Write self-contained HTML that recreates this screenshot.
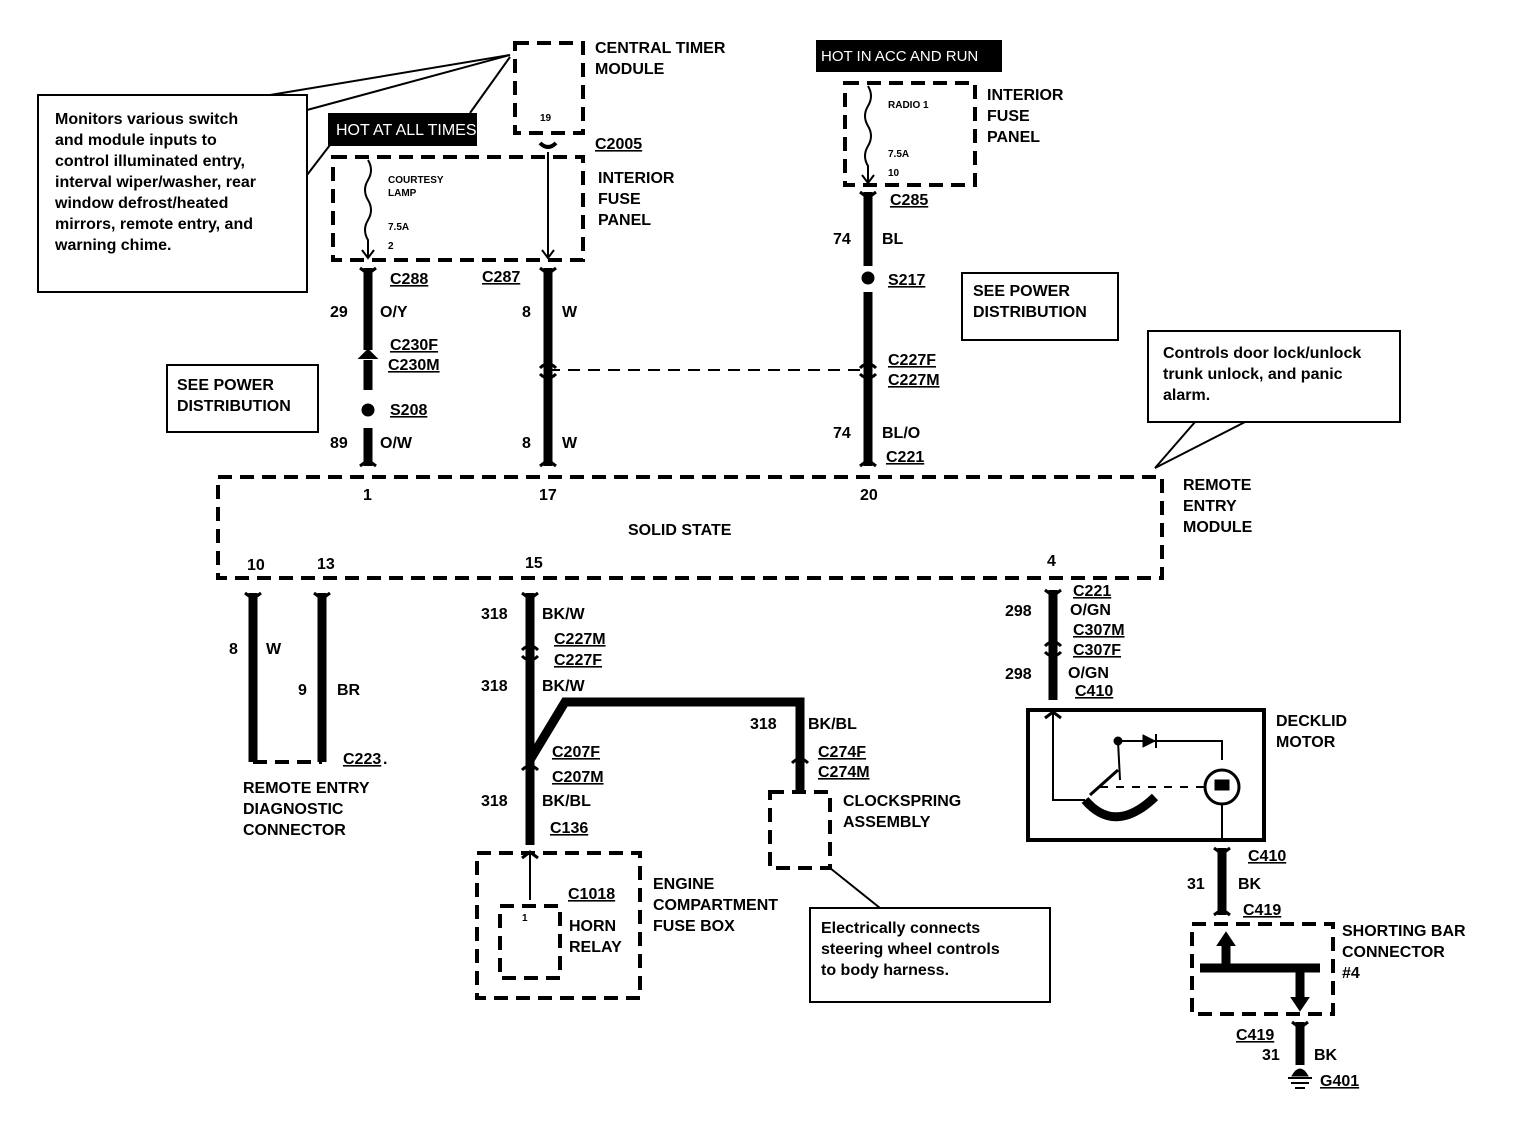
<!DOCTYPE html>
<html><head><meta charset="utf-8"><style>
html,body{margin:0;padding:0;background:#fff}
svg text{font-family:"Liberation Sans",sans-serif;font-weight:bold;font-size:16px;fill:#000}
.s{font-size:10px}
.u{text-decoration:underline}
</style></head><body>
<svg width="1520" height="1136" viewBox="0 0 1520 1136" xmlns="http://www.w3.org/2000/svg">
<g fill="none" stroke="#000">
<!-- note box left -->
<rect x="38" y="95" width="269" height="197" stroke-width="2"/>
<line x1="307" y1="110" x2="510" y2="55" stroke-width="2"/>
<line x1="270" y1="95" x2="510" y2="55" stroke-width="2"/>
<polyline points="307,175 330,145" stroke-width="2"/>
<line x1="470" y1="113" x2="510" y2="57" stroke-width="2"/>
<!-- dashed boxes -->
<g stroke-width="4" stroke-dasharray="14,8">
<rect x="515" y="43" width="68" height="90"/>
<rect x="333" y="157" width="250" height="103"/>
<rect x="845" y="83" width="130" height="102"/>
<rect x="218" y="477" width="944" height="101"/>
<rect x="770" y="792" width="60" height="76"/>
<rect x="477" y="853" width="163" height="145"/>
<rect x="500" y="906" width="60" height="72"/>
<rect x="1192" y="924" width="141" height="90"/>
<line x1="253" y1="762" x2="322" y2="762"/>
</g>
<line x1="548" y1="370" x2="868" y2="370" stroke-width="2" stroke-dasharray="12,8"/>
<!-- fuses -->
<path d="M368,160 q6,10 0,20 q-6,10 0,20 q6,10 0,20 q-6,10 0,20 L368,258" stroke-width="2"/>
<path d="M868,86 q6,10 0,20 q-6,10 0,20 q6,10 0,20 q-6,10 0,20 L868,183" stroke-width="2"/>
<line x1="548" y1="152" x2="548" y2="258" stroke-width="2"/>
<path d="M542,250 l6,8 l6,-8 M362,250 l6,8 l6,-8 M862,175 l6,8 l6,-8" stroke-width="2"/>
<path d="M540,143 q8,8 16,0" stroke-width="4"/>
<!-- thick wires -->
<g stroke-width="9">
<line x1="368" y1="268" x2="368" y2="350"/>
<line x1="368" y1="360" x2="368" y2="390"/>
<line x1="368" y1="428" x2="368" y2="466"/>
<line x1="548" y1="268" x2="548" y2="466"/>
<line x1="868" y1="192" x2="868" y2="266"/>
<line x1="868" y1="292" x2="868" y2="466"/>
<line x1="253" y1="593" x2="253" y2="762"/>
<line x1="322" y1="593" x2="322" y2="762"/>
<line x1="530" y1="593" x2="530" y2="845"/>
<polyline points="530,760 565,702 800,702 800,790"/>
<line x1="1053" y1="590" x2="1053" y2="700"/>
<line x1="1222" y1="848" x2="1222" y2="915"/>
<line x1="1226" y1="940" x2="1226" y2="968"/>
<polyline points="1200,968 1320,968"/>
<line x1="1300" y1="968" x2="1300" y2="998"/>
<line x1="1300" y1="1022" x2="1300" y2="1065"/>
</g>
<line x1="530" y1="855" x2="530" y2="900" stroke-width="2"/>
<!-- connector caps -->
<g stroke-width="3">
<path d="M360,268 l8,6 l8,-6 M540,268 l8,6 l8,-6 M860,192 l8,6 l8,-6 M245,593 l8,6 l8,-6 M314,593 l8,6 l8,-6 M522,593 l8,6 l8,-6 M1045,590 l8,6 l8,-6 M1214,848 l8,6 l8,-6 M1292,1022 l8,6 l8,-6"/>
<path d="M360,466 l8,-6 l8,6 M540,466 l8,-6 l8,6 M860,466 l8,-6 l8,6 M1214,915 l8,-6 l8,6"/>
<path d="M540,368 q8,-8 16,0 M540,374 q8,8 16,0 M860,368 q8,-8 16,0 M860,374 q8,8 16,0 M522,650 q8,-8 16,0 M522,656 q8,8 16,0 M522,770 q8,-8 16,0 M1045,646 q8,-8 16,0 M1045,652 q8,8 16,0 M792,763 q8,-8 16,0"/>
<path d="M522,858 l8,-6 l8,6 M1045,718 l8,-6 l8,6"/>
</g>
<circle cx="368" cy="410" r="6" fill="#000"/>
<circle cx="868" cy="278" r="6" fill="#000"/>
<path d="M360,358 l8,-8 l8,8 z M1218,945 l8,-12 l8,12z M1292,998 l8,12 l8,-12z" fill="#000" stroke-width="2"/>
<!-- right note -->
<rect x="1148" y="331" width="252" height="91" stroke-width="2"/>
<polyline points="1195,422 1155,468 1245,422" stroke-width="2"/>
<!-- decklid -->
<rect x="1028" y="710" width="236" height="130" stroke-width="4"/>
<polyline points="1053,712 1053,800 1085,800" stroke-width="2"/>
<path d="M1085,800 q30,35 70,-3" stroke-width="9"/>
<polyline points="1120,780 1118,741 1222,741 1222,760" stroke-width="2"/>
<line x1="1090" y1="795" x2="1118" y2="770" stroke-width="3"/>
<line x1="1100" y1="787" x2="1205" y2="787" stroke-width="2" stroke-dasharray="8,8"/>
<circle cx="1222" cy="787" r="17" stroke-width="3"/>
<line x1="1222" y1="805" x2="1222" y2="838" stroke-width="2"/>
<path d="M1143,735 l12,6 l-12,6z" fill="#000"/>
<line x1="1156" y1="734" x2="1156" y2="748" stroke-width="2"/>
<circle cx="1118" cy="741" r="4" fill="#000"/>
<rect x="1215" y="780" width="14" height="10" fill="#000"/>
<line x1="830" y1="868" x2="880" y2="908" stroke-width="2"/>
<rect x="810" y="908" width="240" height="94" stroke-width="2"/>
<!-- ground -->
<path d="M1288,1078 h24 M1291,1083 h18 M1295,1088 h10" stroke-width="2"/>
<path d="M1292,1076 q8,-14 16,0z" fill="#000"/>
</g>
<rect x="328" y="113" width="149" height="33" fill="#000"/>
<rect x="816" y="40" width="186" height="32" fill="#000"/>
<text x="336" y="135" style="fill:#fff;font-weight:normal">HOT AT ALL TIMES</text>
<text x="821" y="61" style="fill:#fff;font-weight:normal;font-size:15px">HOT IN ACC AND RUN</text>
<text x="55" y="124">Monitors various switch</text>
<text x="55" y="145">and module inputs to</text>
<text x="55" y="166">control illuminated entry,</text>
<text x="55" y="187">interval wiper/washer, rear</text>
<text x="55" y="208">window defrost/heated</text>
<text x="55" y="229">mirrors, remote entry, and</text>
<text x="55" y="250">warning chime.</text>
<text x="595" y="53">CENTRAL TIMER</text><text x="595" y="74">MODULE</text>
<text x="540" y="121" class="s">19</text>
<text x="595" y="149" class="u">C2005</text>
<text x="598" y="183">INTERIOR</text><text x="598" y="204">FUSE</text><text x="598" y="225">PANEL</text>
<text x="388" y="183" class="s">COURTESY</text><text x="388" y="196" class="s">LAMP</text>
<text x="388" y="230" class="s">7.5A</text><text x="388" y="249" class="s">2</text>
<text x="390" y="284" class="u">C288</text><text x="482" y="282" class="u">C287</text>
<text x="330" y="317">29</text><text x="380" y="317">O/Y</text>
<text x="522" y="317">8</text><text x="562" y="317">W</text>
<text x="390" y="350" class="u">C230F</text><text x="388" y="370" class="u">C230M</text>
<text x="390" y="415" class="u">S208</text>
<text x="330" y="448">89</text><text x="380" y="448">O/W</text>
<text x="522" y="448">8</text><text x="562" y="448">W</text>
<rect x="167" y="365" width="151" height="67" fill="none" stroke="#000" stroke-width="2"/>
<text x="177" y="390">SEE POWER</text><text x="177" y="411">DISTRIBUTION</text>
<text x="888" y="108" class="s">RADIO 1</text><text x="888" y="157" class="s">7.5A</text><text x="888" y="176" class="s">10</text>
<text x="987" y="100">INTERIOR</text><text x="987" y="121">FUSE</text><text x="987" y="142">PANEL</text>
<text x="890" y="205" class="u">C285</text>
<text x="833" y="244">74</text><text x="882" y="244">BL</text>
<text x="888" y="285" class="u">S217</text>
<rect x="962" y="273" width="156" height="67" fill="none" stroke="#000" stroke-width="2"/>
<text x="973" y="296">SEE POWER</text><text x="973" y="317">DISTRIBUTION</text>
<text x="888" y="365" class="u">C227F</text><text x="888" y="385" class="u">C227M</text>
<text x="833" y="438">74</text><text x="882" y="438">BL/O</text>
<text x="886" y="462" class="u">C221</text>
<text x="1163" y="358">Controls door lock/unlock</text><text x="1163" y="379">trunk unlock, and panic</text><text x="1163" y="400">alarm.</text>
<text x="363" y="500">1</text><text x="539" y="500">17</text><text x="860" y="500">20</text>
<text x="628" y="535">SOLID STATE</text>
<text x="1183" y="490">REMOTE</text><text x="1183" y="511">ENTRY</text><text x="1183" y="532">MODULE</text>
<text x="247" y="570">10</text><text x="317" y="569">13</text><text x="525" y="568">15</text><text x="1047" y="566">4</text>
<text x="229" y="654">8</text><text x="266" y="654">W</text>
<text x="298" y="695">9</text><text x="337" y="695">BR</text>
<text x="343" y="764" class="u">C223</text><text x="383" y="764">.</text>
<text x="243" y="793">REMOTE ENTRY</text><text x="243" y="814">DIAGNOSTIC</text><text x="243" y="835">CONNECTOR</text>
<text x="481" y="619">318</text><text x="542" y="619">BK/W</text>
<text x="554" y="644" class="u">C227M</text><text x="554" y="665" class="u">C227F</text>
<text x="481" y="691">318</text><text x="542" y="691">BK/W</text>
<text x="750" y="729">318</text><text x="808" y="729">BK/BL</text>
<text x="818" y="757" class="u">C274F</text><text x="818" y="777" class="u">C274M</text>
<text x="552" y="757" class="u">C207F</text><text x="552" y="782" class="u">C207M</text>
<text x="481" y="806">318</text><text x="542" y="806">BK/BL</text>
<text x="550" y="833" class="u">C136</text>
<text x="843" y="806">CLOCKSPRING</text><text x="843" y="827">ASSEMBLY</text>
<text x="522" y="921" class="s">1</text>
<text x="568" y="899" class="u">C1018</text>
<text x="569" y="931">HORN</text><text x="569" y="952">RELAY</text>
<text x="653" y="889">ENGINE</text><text x="653" y="910">COMPARTMENT</text><text x="653" y="931">FUSE BOX</text>
<text x="821" y="933">Electrically connects</text><text x="821" y="954">steering wheel controls</text><text x="821" y="975">to body harness.</text>
<text x="1005" y="616">298</text><text x="1073" y="596" class="u">C221</text>
<text x="1070" y="615">O/GN</text><text x="1073" y="635" class="u">C307M</text><text x="1073" y="655" class="u">C307F</text>
<text x="1005" y="679">298</text><text x="1068" y="678">O/GN</text><text x="1075" y="696" class="u">C410</text>
<text x="1276" y="726">DECKLID</text><text x="1276" y="747">MOTOR</text>
<text x="1248" y="861" class="u">C410</text>
<text x="1187" y="889">31</text><text x="1238" y="889">BK</text>
<text x="1243" y="915" class="u">C419</text>
<text x="1342" y="936">SHORTING BAR</text><text x="1342" y="957">CONNECTOR</text><text x="1342" y="978">#4</text>
<text x="1236" y="1040" class="u">C419</text>
<text x="1262" y="1060">31</text><text x="1314" y="1060">BK</text>
<text x="1320" y="1086" class="u">G401</text>
</svg>
</body></html>
